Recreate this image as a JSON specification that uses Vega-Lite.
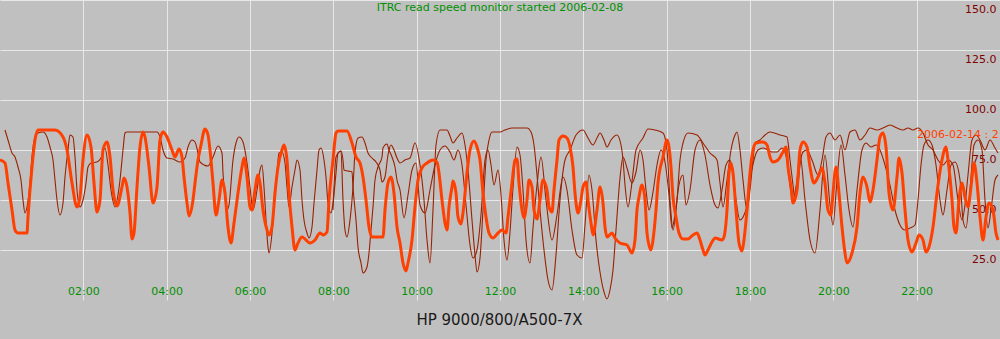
{
"$schema": "https://vega.github.io/schema/vega-lite/v6.json",
"width": 1000, "height": 300, "padding": {"left": 0, "top": 0, "right": 0, "bottom": 39}, "autosize": "none",
"background": "#c0c0c0",
"config": {"view": {"stroke": null}, "font": "DejaVu Sans",
  "axis": {"domain": false, "ticks": false, "tickSize": 0, "gridColor": "#e8e8e8", "gridOpacity": 1, "gridWidth": 1, "labelFont": "DejaVu Sans", "labelFontSize": 11, "labelFlush": false, "labelOverlap": false, "labelBound": false}},
"title": {"text": "ITRC read speed monitor started 2006-02-08", "color": "#009000", "font": "DejaVu Sans", "fontSize": 11, "fontWeight": "normal", "anchor": "middle", "offset": -13},
"datasets": {
"orange": [
{"h":0,"v":70},{"h":0.12,"v":68.5},{"h":0.192,"v":58.5},{"h":0.288,"v":45},{"h":0.36,"v":35},{"h":0.432,"v":33.5},{"h":0.648,"v":33.5},{"h":0.672,"v":41.5},{"h":0.768,"v":66.5},{"h":0.84,"v":80},{"h":0.912,"v":85},{"h":1.32,"v":85},{"h":1.512,"v":81.5},{"h":1.608,"v":75},{"h":1.728,"v":58.5},{"h":1.848,"v":46.5},{"h":1.92,"v":51.5},{"h":1.992,"v":70},{"h":2.088,"v":82.5},{"h":2.184,"v":76.5},{"h":2.256,"v":58.5},{"h":2.328,"v":44},{"h":2.4,"v":50},{"h":2.472,"v":75},{"h":2.568,"v":79},{"h":2.64,"v":71.5},{"h":2.712,"v":55},{"h":2.808,"v":47},{"h":2.928,"v":56.5},{"h":2.976,"v":61},{"h":3.048,"v":56.5},{"h":3.12,"v":43.5},{"h":3.168,"v":30.5},{"h":3.216,"v":33.5},{"h":3.288,"v":56.5},{"h":3.36,"v":76.5},{"h":3.432,"v":84},{"h":3.48,"v":81.5},{"h":3.576,"v":66.5},{"h":3.672,"v":48.5},{"h":3.768,"v":56.5},{"h":3.84,"v":80},{"h":3.912,"v":84},{"h":4.008,"v":81.5},{"h":4.128,"v":75},{"h":4.2,"v":71.5},{"h":4.296,"v":75.5},{"h":4.368,"v":71.5},{"h":4.416,"v":61.5},{"h":4.488,"v":48.5},{"h":4.536,"v":42},{"h":4.632,"v":50},{"h":4.68,"v":58.5},{"h":4.752,"v":70},{"h":4.824,"v":77.5},{"h":4.92,"v":85.5},{"h":4.992,"v":82.5},{"h":5.04,"v":75},{"h":5.112,"v":58.5},{"h":5.184,"v":42.5},{"h":5.256,"v":50},{"h":5.328,"v":60},{"h":5.4,"v":53.5},{"h":5.472,"v":36.5},{"h":5.544,"v":28.5},{"h":5.616,"v":38.5},{"h":5.712,"v":53.5},{"h":5.808,"v":66.5},{"h":5.856,"v":71},{"h":5.928,"v":61.5},{"h":6.0,"v":46.5},{"h":6.048,"v":45},{"h":6.12,"v":55},{"h":6.192,"v":62.5},{"h":6.24,"v":58.5},{"h":6.312,"v":45},{"h":6.408,"v":35},{"h":6.456,"v":32.5},{"h":6.528,"v":36.5},{"h":6.6,"v":53.5},{"h":6.672,"v":66.5},{"h":6.768,"v":75},{"h":6.816,"v":77.5},{"h":6.888,"v":70},{"h":6.936,"v":53.5},{"h":7.008,"v":36.5},{"h":7.08,"v":25},{"h":7.152,"v":28.5},{"h":7.248,"v":31.5},{"h":7.344,"v":30},{"h":7.44,"v":28.5},{"h":7.56,"v":30},{"h":7.68,"v":33.5},{"h":7.752,"v":32.5},{"h":7.848,"v":34},{"h":7.896,"v":50},{"h":7.992,"v":70},{"h":8.064,"v":83.5},{"h":8.112,"v":84.5},{"h":8.328,"v":84.5},{"h":8.448,"v":78.5},{"h":8.544,"v":71.5},{"h":8.64,"v":68.5},{"h":8.712,"v":61.5},{"h":8.784,"v":50},{"h":8.856,"v":36.5},{"h":8.928,"v":31.5},{"h":9.192,"v":31.5},{"h":9.24,"v":45},{"h":9.312,"v":58.5},{"h":9.384,"v":61.5},{"h":9.456,"v":53.5},{"h":9.528,"v":36.5},{"h":9.6,"v":28.5},{"h":9.672,"v":18.5},{"h":9.744,"v":14.5},{"h":9.792,"v":18.5},{"h":9.888,"v":30},{"h":9.96,"v":46.5},{"h":10.032,"v":60},{"h":10.128,"v":66},{"h":10.248,"v":68.5},{"h":10.392,"v":70},{"h":10.488,"v":69},{"h":10.536,"v":63.5},{"h":10.608,"v":50},{"h":10.68,"v":38.5},{"h":10.728,"v":35},{"h":10.776,"v":46.5},{"h":10.848,"v":56.5},{"h":10.872,"v":59.5},{"h":10.944,"v":53.5},{"h":10.992,"v":41.5},{"h":11.064,"v":38},{"h":11.112,"v":43.5},{"h":11.208,"v":63.5},{"h":11.28,"v":75},{"h":11.376,"v":79.5},{"h":11.448,"v":76.5},{"h":11.52,"v":70},{"h":11.592,"v":53.5},{"h":11.664,"v":41.5},{"h":11.736,"v":33.5},{"h":11.832,"v":31},{"h":11.952,"v":33.5},{"h":12.048,"v":35},{"h":12.144,"v":33.5},{"h":12.192,"v":41.5},{"h":12.288,"v":58.5},{"h":12.36,"v":70},{"h":12.408,"v":70.5},{"h":12.456,"v":58.5},{"h":12.528,"v":45},{"h":12.576,"v":41},{"h":12.648,"v":50},{"h":12.696,"v":60},{"h":12.768,"v":56.5},{"h":12.816,"v":45},{"h":12.888,"v":40.5},{"h":12.96,"v":50},{"h":13.032,"v":60},{"h":13.128,"v":55},{"h":13.176,"v":46.5},{"h":13.248,"v":44},{"h":13.296,"v":55},{"h":13.368,"v":70},{"h":13.416,"v":80},{"h":13.512,"v":82},{"h":13.608,"v":81},{"h":13.68,"v":76.5},{"h":13.752,"v":66.5},{"h":13.8,"v":53.5},{"h":13.872,"v":43.5},{"h":13.944,"v":50},{"h":13.992,"v":56.5},{"h":14.064,"v":59},{"h":14.112,"v":50},{"h":14.184,"v":38.5},{"h":14.232,"v":32.5},{"h":14.328,"v":45},{"h":14.4,"v":56.5},{"h":14.472,"v":48.5},{"h":14.52,"v":36.5},{"h":14.568,"v":31.5},{"h":14.688,"v":33.5},{"h":14.76,"v":31},{"h":14.88,"v":28.5},{"h":15.048,"v":27.5},{"h":15.168,"v":23.5},{"h":15.24,"v":30},{"h":15.288,"v":45},{"h":15.336,"v":51.5},{"h":15.408,"v":57.5},{"h":15.48,"v":50},{"h":15.528,"v":33.5},{"h":15.624,"v":25},{"h":15.672,"v":30},{"h":15.744,"v":45},{"h":15.792,"v":58.5},{"h":15.912,"v":71.5},{"h":16.008,"v":80},{"h":16.056,"v":76.5},{"h":16.104,"v":66.5},{"h":16.152,"v":51.5},{"h":16.224,"v":41.5},{"h":16.296,"v":33.5},{"h":16.392,"v":30.5},{"h":16.512,"v":30.5},{"h":16.632,"v":32.5},{"h":16.728,"v":33.5},{"h":16.8,"v":30},{"h":16.872,"v":25},{"h":16.92,"v":22.5},{"h":16.992,"v":25},{"h":17.088,"v":29},{"h":17.16,"v":31},{"h":17.328,"v":30},{"h":17.376,"v":31.5},{"h":17.448,"v":45},{"h":17.496,"v":63.5},{"h":17.544,"v":68.5},{"h":17.592,"v":63.5},{"h":17.664,"v":45},{"h":17.736,"v":28.5},{"h":17.808,"v":24.5},{"h":17.856,"v":30},{"h":17.928,"v":45},{"h":18.0,"v":63.5},{"h":18.072,"v":75},{"h":18.144,"v":78.5},{"h":18.312,"v":79},{"h":18.408,"v":77.5},{"h":18.48,"v":71.5},{"h":18.552,"v":69},{"h":18.672,"v":70},{"h":18.792,"v":74},{"h":18.864,"v":76.5},{"h":18.912,"v":66.5},{"h":18.984,"v":56.5},{"h":19.032,"v":48.5},{"h":19.128,"v":55},{"h":19.2,"v":75},{"h":19.272,"v":79},{"h":19.368,"v":76.5},{"h":19.44,"v":66.5},{"h":19.536,"v":58.5},{"h":19.632,"v":61.5},{"h":19.728,"v":66},{"h":19.8,"v":58.5},{"h":19.872,"v":45},{"h":19.944,"v":42.5},{"h":19.992,"v":53.5},{"h":20.064,"v":66.5},{"h":20.136,"v":53.5},{"h":20.208,"v":36.5},{"h":20.28,"v":23.5},{"h":20.328,"v":18.5},{"h":20.448,"v":23.5},{"h":20.568,"v":36.5},{"h":20.64,"v":53.5},{"h":20.712,"v":61.5},{"h":20.808,"v":56.5},{"h":20.88,"v":49},{"h":20.952,"v":55},{"h":21.048,"v":70},{"h":21.12,"v":81.5},{"h":21.192,"v":83.5},{"h":21.264,"v":76.5},{"h":21.336,"v":53.5},{"h":21.432,"v":45},{"h":21.528,"v":61.5},{"h":21.576,"v":71},{"h":21.648,"v":63.5},{"h":21.72,"v":45},{"h":21.792,"v":30},{"h":21.888,"v":24},{"h":21.984,"v":28.5},{"h":22.056,"v":32.5},{"h":22.152,"v":30},{"h":22.224,"v":24},{"h":22.296,"v":26.5},{"h":22.392,"v":36.5},{"h":22.488,"v":53.5},{"h":22.608,"v":70},{"h":22.704,"v":76.5},{"h":22.752,"v":70},{"h":22.848,"v":50},{"h":22.896,"v":36.5},{"h":22.944,"v":33.5},{"h":23.016,"v":50},{"h":23.088,"v":58.5},{"h":23.16,"v":51.5},{"h":23.232,"v":46.5},{"h":23.304,"v":56.5},{"h":23.376,"v":68.5},{"h":23.448,"v":58.5},{"h":23.52,"v":41.5},{"h":23.592,"v":30},{"h":23.664,"v":41.5},{"h":23.736,"v":48.5},{"h":23.832,"v":45},{"h":23.904,"v":33.5},{"h":23.952,"v":30}
],
"a": [
{"h":0.12,"v":85},{"h":0.192,"v":80},{"h":0.288,"v":73.5},{"h":0.36,"v":71.5},{"h":0.432,"v":66.5},{"h":0.504,"v":60},{"h":0.552,"v":50},{"h":0.6,"v":43.5},{"h":0.648,"v":46.5},{"h":0.72,"v":58.5},{"h":0.768,"v":71.5},{"h":0.84,"v":81.5},{"h":0.912,"v":83.5},{"h":1.032,"v":84},{"h":1.128,"v":81.5},{"h":1.2,"v":76.5},{"h":1.272,"v":70},{"h":1.32,"v":60},{"h":1.368,"v":50},{"h":1.44,"v":42.5},{"h":1.512,"v":48.5},{"h":1.56,"v":61.5},{"h":1.632,"v":75},{"h":1.68,"v":82.5},{"h":1.752,"v":81.5},{"h":1.8,"v":71.5},{"h":1.848,"v":55},{"h":1.92,"v":46.5},{"h":1.992,"v":50},{"h":2.064,"v":58.5},{"h":2.112,"v":66.5},{"h":2.184,"v":68.5},{"h":2.328,"v":69},{"h":2.424,"v":71},{"h":2.52,"v":76},{"h":2.592,"v":67.5},{"h":2.664,"v":55},{"h":2.76,"v":46.5},{"h":2.832,"v":52.5},{"h":2.88,"v":60},{"h":2.952,"v":75},{"h":3.0,"v":83.5},{"h":3.048,"v":84},{"h":3.768,"v":84},{"h":3.84,"v":81.5},{"h":3.912,"v":75},{"h":4.008,"v":71},{"h":4.152,"v":70.5},{"h":4.32,"v":69},{"h":4.44,"v":71},{"h":4.512,"v":76.5},{"h":4.608,"v":80},{"h":4.68,"v":79},{"h":4.752,"v":73.5},{"h":4.8,"v":69},{"h":4.992,"v":67},{"h":5.112,"v":71.5},{"h":5.232,"v":77},{"h":5.328,"v":73.5},{"h":5.352,"v":63.5},{"h":5.4,"v":51.5},{"h":5.448,"v":45},{"h":5.496,"v":47.5},{"h":5.592,"v":70},{"h":5.664,"v":78.5},{"h":5.736,"v":81.5},{"h":5.832,"v":79},{"h":5.928,"v":68.5},{"h":6.0,"v":56.5},{"h":6.072,"v":45},{"h":6.168,"v":55},{"h":6.24,"v":65},{"h":6.288,"v":67.5},{"h":6.336,"v":56.5},{"h":6.384,"v":40},{"h":6.432,"v":26.5},{"h":6.456,"v":23.5},{"h":6.528,"v":33.5},{"h":6.576,"v":46.5},{"h":6.648,"v":63.5},{"h":6.696,"v":73.5},{"h":6.768,"v":74},{"h":6.84,"v":68.5},{"h":6.888,"v":56.5},{"h":6.936,"v":46.5},{"h":7.008,"v":56.5},{"h":7.08,"v":65},{"h":7.128,"v":70},{"h":7.2,"v":65},{"h":7.248,"v":50},{"h":7.296,"v":40},{"h":7.368,"v":33.5},{"h":7.416,"v":31},{"h":7.488,"v":36.5},{"h":7.536,"v":48.5},{"h":7.608,"v":65},{"h":7.656,"v":75},{"h":7.704,"v":76},{"h":7.776,"v":70},{"h":7.824,"v":61.5},{"h":7.872,"v":48.5},{"h":7.944,"v":43.5},{"h":7.992,"v":48.5},{"h":8.064,"v":63.5},{"h":8.112,"v":73.5},{"h":8.184,"v":74.5},{"h":8.232,"v":70},{"h":8.256,"v":65},{"h":8.352,"v":64.5},{"h":8.448,"v":64},{"h":8.472,"v":56.5},{"h":8.544,"v":40},{"h":8.592,"v":26.5},{"h":8.664,"v":18.5},{"h":8.712,"v":13.5},{"h":8.808,"v":16.5},{"h":8.856,"v":23.5},{"h":8.904,"v":35},{"h":8.952,"v":46.5},{"h":9.0,"v":60},{"h":9.072,"v":66.5},{"h":9.168,"v":71.5},{"h":9.192,"v":76},{"h":9.288,"v":78},{"h":9.336,"v":75},{"h":9.408,"v":71.5},{"h":9.48,"v":66.5},{"h":9.528,"v":60},{"h":9.6,"v":55},{"h":9.696,"v":41},{"h":9.792,"v":52.5},{"h":9.888,"v":65},{"h":9.984,"v":68.5},{"h":10.08,"v":47.5},{"h":10.2,"v":43.5},{"h":10.32,"v":55},{"h":10.44,"v":67.5},{"h":10.56,"v":75},{"h":10.68,"v":77},{"h":10.8,"v":74},{"h":10.896,"v":70},{"h":10.992,"v":75},{"h":11.088,"v":67.5},{"h":11.184,"v":47.5},{"h":11.28,"v":27.5},{"h":11.352,"v":21},{"h":11.448,"v":25},{"h":11.544,"v":42.5},{"h":11.64,"v":70},{"h":11.712,"v":75},{"h":11.784,"v":67.5},{"h":11.856,"v":57.5},{"h":11.952,"v":65},{"h":12.024,"v":52.5},{"h":12.096,"v":30},{"h":12.168,"v":20},{"h":12.24,"v":34},{"h":12.312,"v":56},{"h":12.408,"v":76.5},{"h":12.48,"v":72.5},{"h":12.552,"v":55},{"h":12.624,"v":30},{"h":12.72,"v":18.5},{"h":12.792,"v":36},{"h":12.888,"v":57.5},{"h":12.984,"v":71.5},{"h":13.104,"v":50},{"h":13.248,"v":30},{"h":13.368,"v":42.5},{"h":13.512,"v":61.5},{"h":13.608,"v":55},{"h":13.728,"v":35},{"h":13.848,"v":22.5},{"h":13.968,"v":21},{"h":14.04,"v":37.5},{"h":14.136,"v":62.5},{"h":14.208,"v":55},{"h":14.304,"v":30},{"h":14.4,"v":14},{"h":14.496,"v":4},{"h":14.568,"v":0.5},{"h":14.64,"v":5},{"h":14.712,"v":15},{"h":14.784,"v":35},{"h":14.88,"v":61},{"h":14.952,"v":71.5},{"h":15.048,"v":66},{"h":15.168,"v":58.5},{"h":15.264,"v":64},{"h":15.36,"v":75},{"h":15.432,"v":70},{"h":15.504,"v":55},{"h":15.576,"v":45},{"h":15.672,"v":54},{"h":15.768,"v":67.5},{"h":15.864,"v":75},{"h":15.96,"v":69},{"h":16.056,"v":52.5},{"h":16.128,"v":36},{"h":16.2,"v":42.5},{"h":16.296,"v":57.5},{"h":16.392,"v":62.5},{"h":16.464,"v":47.5},{"h":16.56,"v":55},{"h":16.68,"v":75},{"h":16.8,"v":80},{"h":16.92,"v":72.5},{"h":17.04,"v":57.5},{"h":17.16,"v":47.5},{"h":17.232,"v":46},{"h":17.328,"v":55},{"h":17.424,"v":67.5},{"h":17.52,"v":70},{"h":17.592,"v":62.5},{"h":17.664,"v":50},{"h":17.76,"v":40},{"h":17.856,"v":42.5},{"h":17.928,"v":47.5},{"h":18.0,"v":60},{"h":18.096,"v":70},{"h":18.192,"v":75},{"h":18.312,"v":76},{"h":18.432,"v":75},{"h":18.528,"v":74},{"h":18.648,"v":74},{"h":18.768,"v":76},{"h":18.888,"v":70},{"h":18.96,"v":57.5},{"h":19.032,"v":50},{"h":19.128,"v":60},{"h":19.2,"v":72.5},{"h":19.32,"v":50},{"h":19.44,"v":30},{"h":19.56,"v":23.5},{"h":19.68,"v":45},{"h":19.8,"v":72.5},{"h":19.92,"v":47.5},{"h":19.992,"v":37.5},{"h":20.088,"v":60},{"h":20.184,"v":77.5},{"h":20.28,"v":62.5},{"h":20.376,"v":45},{"h":20.472,"v":36.5},{"h":20.568,"v":55},{"h":20.688,"v":75},{"h":20.784,"v":78.5},{"h":20.904,"v":76.5},{"h":21.024,"v":77.5},{"h":21.12,"v":75},{"h":21.24,"v":67.5},{"h":21.36,"v":57.5},{"h":21.48,"v":45},{"h":21.6,"v":37.5},{"h":21.72,"v":35},{"h":21.84,"v":36},{"h":21.96,"v":37.5},{"h":22.032,"v":50},{"h":22.104,"v":67.5},{"h":22.176,"v":77.5},{"h":22.272,"v":80},{"h":22.368,"v":77.5},{"h":22.464,"v":67.5},{"h":22.56,"v":50},{"h":22.632,"v":42.5},{"h":22.728,"v":55},{"h":22.824,"v":67.5},{"h":22.92,"v":69},{"h":23.04,"v":60},{"h":23.112,"v":40},{"h":23.184,"v":36},{"h":23.28,"v":55},{"h":23.376,"v":77.5},{"h":23.472,"v":80},{"h":23.568,"v":75},{"h":23.64,"v":50},{"h":23.712,"v":36},{"h":23.784,"v":45},{"h":23.88,"v":60},{"h":23.952,"v":62.5}
],
"b": [
{"h":7.992,"v":45},{"h":8.064,"v":71.5},{"h":8.184,"v":74.5},{"h":8.232,"v":50},{"h":8.28,"v":35},{"h":8.328,"v":31.5},{"h":8.4,"v":40},{"h":8.472,"v":56.5},{"h":8.52,"v":73.5},{"h":8.592,"v":81},{"h":8.688,"v":81.5},{"h":8.76,"v":78.5},{"h":8.832,"v":73.5},{"h":8.928,"v":71},{"h":9.024,"v":69},{"h":9.12,"v":65},{"h":9.168,"v":59},{"h":9.24,"v":61.5},{"h":9.312,"v":72.5},{"h":9.384,"v":77.5},{"h":9.456,"v":75},{"h":9.528,"v":71},{"h":9.6,"v":68.5},{"h":9.72,"v":70},{"h":9.84,"v":71},{"h":9.96,"v":78.5},{"h":10.08,"v":67.5},{"h":10.176,"v":50},{"h":10.248,"v":30},{"h":10.32,"v":18.5},{"h":10.392,"v":45},{"h":10.464,"v":77.5},{"h":10.56,"v":85},{"h":10.728,"v":85},{"h":10.8,"v":82},{"h":10.872,"v":78.5},{"h":10.968,"v":81},{"h":11.088,"v":83.5},{"h":11.16,"v":77.5},{"h":11.232,"v":65},{"h":11.328,"v":40},{"h":11.4,"v":22.5},{"h":11.448,"v":14},{"h":11.52,"v":21},{"h":11.592,"v":45},{"h":11.664,"v":70},{"h":11.736,"v":80},{"h":11.808,"v":84},{"h":12.0,"v":84},{"h":12.12,"v":85},{"h":12.288,"v":86},{"h":12.648,"v":86},{"h":12.744,"v":84},{"h":12.816,"v":77.5},{"h":12.888,"v":62.5},{"h":12.96,"v":45},{"h":13.056,"v":25},{"h":13.152,"v":10},{"h":13.248,"v":5},{"h":13.344,"v":22.5},{"h":13.44,"v":50},{"h":13.56,"v":70},{"h":13.68,"v":75},{"h":13.824,"v":82.5},{"h":13.992,"v":85},{"h":14.112,"v":81},{"h":14.232,"v":77.5},{"h":14.328,"v":81},{"h":14.4,"v":83.5},{"h":14.496,"v":80},{"h":14.568,"v":76.5},{"h":14.664,"v":80},{"h":14.808,"v":82.5},{"h":14.904,"v":77.5},{"h":14.952,"v":70},{"h":15.0,"v":57.5},{"h":15.072,"v":46.5},{"h":15.144,"v":55},{"h":15.192,"v":63.5},{"h":15.264,"v":75},{"h":15.432,"v":81},{"h":15.552,"v":85.5},{"h":15.72,"v":85},{"h":15.912,"v":83.5},{"h":16.008,"v":75},{"h":16.08,"v":50},{"h":16.152,"v":35},{"h":16.248,"v":50},{"h":16.32,"v":70},{"h":16.392,"v":78.5},{"h":16.512,"v":83.5},{"h":16.728,"v":82.5},{"h":16.872,"v":78.5},{"h":17.04,"v":73.5},{"h":17.208,"v":70},{"h":17.28,"v":58.5},{"h":17.352,"v":46.5},{"h":17.448,"v":60},{"h":17.544,"v":75},{"h":17.64,"v":82.5},{"h":17.688,"v":84},{"h":17.76,"v":75},{"h":17.832,"v":60},{"h":17.928,"v":45},{"h":18.0,"v":55},{"h":18.072,"v":70},{"h":18.12,"v":78.5},{"h":18.24,"v":80},{"h":18.36,"v":82.5},{"h":18.48,"v":84},{"h":18.72,"v":82.5},{"h":18.888,"v":81.5},{"h":18.96,"v":70},{"h":19.032,"v":57.5},{"h":19.08,"v":50},{"h":19.152,"v":57.5},{"h":19.2,"v":67.5},{"h":19.272,"v":74},{"h":19.368,"v":75},{"h":19.488,"v":70},{"h":19.632,"v":62.5},{"h":19.728,"v":70},{"h":19.824,"v":81.5},{"h":19.92,"v":83.5},{"h":20.04,"v":80},{"h":20.16,"v":82.5},{"h":20.28,"v":75},{"h":20.4,"v":84},{"h":20.52,"v":85},{"h":20.64,"v":80},{"h":20.76,"v":82.5},{"h":20.88,"v":86},{"h":21.048,"v":85},{"h":21.192,"v":86},{"h":21.36,"v":87.5},{"h":21.528,"v":86},{"h":21.672,"v":85},{"h":21.792,"v":86},{"h":21.912,"v":85},{"h":22.032,"v":86},{"h":22.152,"v":83.5},{"h":22.272,"v":77.5},{"h":22.392,"v":75},{"h":22.512,"v":70},{"h":22.632,"v":67.5},{"h":22.752,"v":70},{"h":22.872,"v":67.5},{"h":22.992,"v":50},{"h":23.088,"v":40},{"h":23.16,"v":47.5},{"h":23.232,"v":62.5},{"h":23.328,"v":80},{"h":23.424,"v":82.5},{"h":23.52,"v":80},{"h":23.64,"v":75},{"h":23.76,"v":80},{"h":23.88,"v":76},{"h":23.952,"v":73.5}
]
},
"layer": [
{"data": {"name": "a"},
 "mark": {"type": "line", "color": "#9a2000", "strokeWidth": 1.1, "interpolate": "monotone", "clip": true},
 "encoding": {
  "x": {"field": "h", "type": "quantitative", "scale": {"domain": [0, 24], "nice": false, "zero": false},
   "axis": {"values": [2,4,6,8,10,12,14,16,18,20,22], "labelExpr": "(datum.value < 10 ? '0' : '') + datum.value + ':00'", "labelColor": "#009000", "labelPadding": -15, "grid": true,
    "title": "HP 9000/800/A500-7X", "titleColor": "#1a1a1a", "titleFont": "DejaVu Sans", "titleFontSize": 15, "titleFontWeight": "normal", "titleX": 499, "titleY": 24, "titleBaseline": "alphabetic", "titleAlign": "center"}},
  "y": {"field": "v", "type": "quantitative", "scale": {"domain": [0, 150], "nice": false, "zero": false},
   "axis": {"orient": "right", "values": [25,50,75,100,125,150], "format": ".1f", "labelColor": "#800000", "labelAlign": "right", "labelPadding": -4, "labelBaseline": "top", "labelOffset": 3, "grid": true, "title": null}}
 }},
{"data": {"name": "b"},
 "mark": {"type": "line", "color": "#9a2000", "strokeWidth": 1.1, "interpolate": "monotone", "clip": true},
 "encoding": {"x": {"field": "h", "type": "quantitative"}, "y": {"field": "v", "type": "quantitative"}}},
{"data": {"name": "orange"},
 "mark": {"type": "line", "color": "#ff4000", "strokeWidth": 3, "interpolate": "monotone", "clip": true},
 "encoding": {"x": {"field": "h", "type": "quantitative"}, "y": {"field": "v", "type": "quantitative"}}},
{"data": {"values": [{}]},
 "mark": {"type": "text", "color": "#ff4000", "font": "DejaVu Sans", "fontSize": 11, "align": "left", "baseline": "alphabetic"},
 "encoding": {"x": {"datum": 22.01}, "y": {"datum": 81}, "text": {"value": "2006-02-14 : 2"}}}
]
}
